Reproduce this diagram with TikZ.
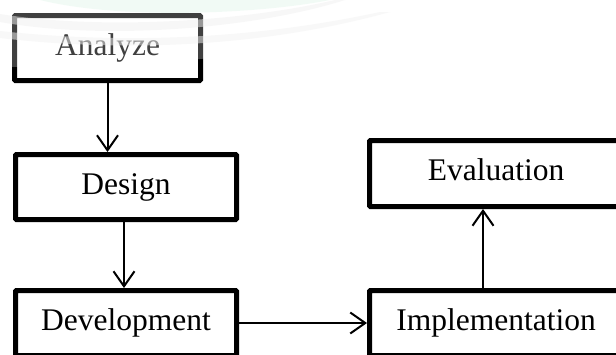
\documentclass[tikz,border=0pt]{standalone}
\usepackage{fontspec}
\setmainfont{Liberation Serif}
\usetikzlibrary{arrows.meta}
\begin{document}
\begin{tikzpicture}[x=1pt,y=-1pt,
  stagebox/.style={draw=black,line width=5pt,rounded corners=1pt,fill=white,
    inner sep=0pt,font=\fontsize{31.5}{36}\selectfont,
    text height=22pt,text depth=8pt},
  flow/.style={line width=2pt,-{Straight Barb[length=15pt,width=21pt,line width=2pt]}}]
\useasboundingbox (0,0) rectangle (616,354);
\fill[white] (0,0) rectangle (616,354);
% nodes
\node[stagebox,minimum width=186pt,minimum height=65pt] (A) at (107.5,48) {Analyze};
\node[stagebox,minimum width=221pt,minimum height=65pt] (D) at (126,187) {Design};
\node[stagebox,minimum width=221pt,minimum height=65pt] (V) at (126,323) {Development};
\node[stagebox,minimum width=253pt,minimum height=66pt] (E) at (496,173.5) {Evaluation};
\node[stagebox,minimum width=253pt,minimum height=65pt] (I) at (496,323) {Implementation};
% connectors
\draw[flow] (A.south) -- (A.south |- D.north);
\draw[flow] ([xshift=-2pt]D.south) -- ([xshift=-2pt]D.south |- V.north);
\draw[flow] (V.east) -- (I.west);
\draw[flow] ([xshift=-13pt]I.north) -- ([xshift=-13pt]I.north |- E.south);
% watermark
\fill[white,opacity=0.25] (0,0) -- (0,67) .. controls (150,67) and (300,55) .. (400,25) -- (400,0) -- cycle;
\fill[green!40!teal!10,opacity=0.5] (40,0) .. controls (120,20) and (260,14) .. (330,0) -- cycle;
\fill[black!6,opacity=0.5] (0,22) .. controls (100,40) and (250,30) .. (345,0) -- (335,0) .. controls (240,22) and (100,30) .. (0,14) -- cycle;
\fill[black!5,opacity=0.5] (0,38) .. controls (120,52) and (260,48) .. (390,12) -- (380,12) .. controls (250,40) and (120,44) .. (0,31) -- cycle;
\end{tikzpicture}
\end{document}
